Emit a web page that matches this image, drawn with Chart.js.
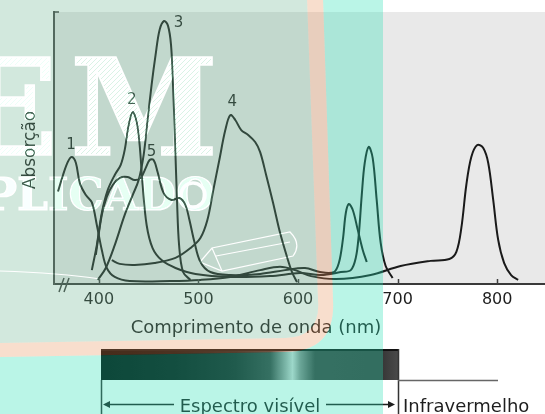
<!DOCTYPE html>
<html lang="pt">
<head>
<meta charset="utf-8">
<title>Espectros de absorção</title>
<script src="https://cdn.jsdelivr.net/npm/chart.js@4.4.0/dist/chart.umd.min.js"></script>
<style>
  html, body { margin: 0; padding: 0; background: #fff; overflow: hidden; }
  canvas { display: block; }
</style>
</head>
<body>
<canvas id="chart" width="545" height="414"></canvas>
<script>
'use strict';

// ── Data ───────────────────────────────────────────────────────────────────
const wavelengthTicks = [400, 500, 600, 700, 800];

const curve1Nm  = [359, 364, 369, 373, 377, 381, 387, 393, 398, 403, 408, 416, 431, 472, 502, 532, 562, 582, 597, 613, 638, 673, 703, 733, 752, 759, 764, 769, 774, 780, 786, 791, 796, 801, 807, 814, 821];
const curve1Abs = [ 34,  40,  45, 46.7, 44.5, 37, 32.7, 30, 21.7, 12.5, 5.9, 2.6, 1.1, 1.1, 1.5, 2.6, 5.1, 6.3, 5.1, 2.9, 1.8, 3.3, 6.6, 8.5, 9.2, 11.8, 20.6, 36.4, 46.7, 51.1, 50, 44.5, 30.9, 16.2, 7.7, 3.3, 1.5];

const curve2Nm  = [393, 398, 403, 409, 416, 422, 426, 430, 434, 438, 441, 444, 448, 454, 463, 477, 497, 532, 572, 602, 623, 643, 653, 658, 661, 664, 667, 671, 675, 679, 683, 688, 695];
const curve2Abs = [5.1, 14.3, 26.1, 34.6, 40.1, 43.8, 49.3, 58.5, 63.2, 59.6, 51.1, 36.4, 21.7, 13.2, 8.8, 5.9, 3.7, 2.6, 2.9, 4, 3.3, 4.4, 5.1, 9.6, 18, 32.7, 44.5, 50.4, 46.3, 30.9, 15.1, 6.6, 2.2];

const curve3Nm  = [399, 407, 416, 426, 434, 440, 445, 449, 453, 457, 461, 465.5, 469.5, 472.5, 474.5, 476.5, 478.5, 480.6, 484.6, 492];
const curve3Abs = [1.5, 5.9, 14.3, 25.4, 32.7, 38.2, 47.4, 60.3, 73.2, 84.2, 93.4, 96.7, 94.9, 87.9, 73.2, 52.9, 30.9, 14.3, 4.4, 1.5];

const curve4Nm  = [413, 421, 436, 456, 477, 492, 502, 509, 515, 521, 527, 532, 537, 543, 550, 557, 562, 568, 575, 582, 589, 594, 599];
const curve4Abs = [8.8, 7.4, 7, 7.7, 9.6, 13.2, 16.9, 23.5, 34.6, 45.6, 56.6, 62.1, 60.3, 56.6, 54.8, 52.2, 48.5, 40.1, 29.8, 18.8, 9.9, 4.4, 0.7];

const curve5Nm  = [397, 403, 408, 414, 421, 429, 436, 442, 447, 451, 455, 459, 465, 473, 481, 487, 491, 496, 502, 512, 532, 562, 587, 607, 622, 636, 641, 645, 648, 651, 655, 660, 665, 669];
const curve5Abs = [10.7, 25.4, 32, 36.4, 39, 39.3, 38.2, 39, 42.6, 45.6, 45.6, 41.2, 33.5, 30.9, 31.6, 29, 23.5, 15.4, 8.1, 4.4, 3.3, 3.7, 5.1, 5.9, 4.4, 4.4, 7.7, 16.2, 26.1, 29.4, 27.2, 19.9, 12.5, 8.1];

const curveLabels = ['1', '2', '3', '4', '5'];
const labelNm     = [372, 433, 480, 534, 453];
const labelAbs    = [51, 67.5, 96, 67, 48.5];

// ── Look ───────────────────────────────────────────────────────────────────
const INK   = '#1a1a1a';
const TEXT  = '#1e1e1e';
const SANS  = '"DejaVu Sans", "Liberation Sans", sans-serif';
const SERIF = '"DejaVu Serif", serif';

const toPoints = (xs, ys) => xs.map((x, i) => ({ x, y: ys[i] }));

function curve(nm, abs) {
  return {
    data: toPoints(nm, abs),
    borderColor: INK,
    borderWidth: 2,
    pointRadius: 0,
    tension: 0.35,
    fill: false,
  };
}

// left panel of the scan overlay (green inner / salmon rim)
function panelPath(ctx, inner) {
  if (inner) {
    ctx.moveTo(-2, -2); ctx.lineTo(307, -2); ctx.lineTo(318, 300);
    ctx.quadraticCurveTo(321, 337, 285, 338); ctx.lineTo(-2, 343);
  } else {
    ctx.moveTo(-2, -2); ctx.lineTo(323, -2); ctx.lineTo(333, 300);
    ctx.quadraticCurveTo(336, 352, 285, 352); ctx.lineTo(-2, 357);
  }
  ctx.closePath();
}

function arrowHead(ctx, x, y, dir) {
  ctx.beginPath();
  ctx.moveTo(x, y);
  ctx.lineTo(x - dir * 7, y - 3.5);
  ctx.lineTo(x - dir * 7, y + 3.5);
  ctx.closePath();
  ctx.fill();
}

// watermark drawn in greys on its own layer, then colour-dodged onto the chart
// so light paper turns white while the ink stays dark
function watermarkLayer(w, h) {
  const c = document.createElement('canvas');
  c.width = w; c.height = h;
  const m = c.getContext('2d');

  const pc = document.createElement('canvas');
  pc.width = 5; pc.height = 5;
  const p = pc.getContext('2d');
  p.fillStyle = 'rgb(72,72,72)';
  p.fillRect(0, 0, 5, 5);
  p.strokeStyle = 'rgb(28,28,28)';
  p.lineWidth = 1;
  p.beginPath();
  p.moveTo(-1, 6); p.lineTo(6, -1);
  p.moveTo(-1, 1); p.lineTo(1, -1);
  p.moveTo(4, 6); p.lineTo(6, 4);
  p.stroke();
  const hatch = m.createPattern(pc, 'repeat');

  m.textBaseline = 'alphabetic';
  m.font = `bold 134px ${SERIF}`;
  m.strokeStyle = 'rgb(80,80,80)';
  m.lineWidth = 1.5;
  [['E', 58, 'right'], ['M', 70, 'left']].forEach(([t, px, al]) => {
    m.textAlign = al;
    m.fillStyle = hatch;
    m.fillText(t, px, 155);
    m.strokeText(t, px, 155);
  });

  m.textAlign = 'left';
  m.font = `bold 44px ${SERIF}`;
  m.fillStyle = 'rgb(40,40,40)';
  m.fillText('PLICADO', -16, 210);
  m.strokeStyle = 'rgb(75,75,75)';
  m.lineWidth = 1.2;
  m.strokeText('PLICADO', -16, 210);

  m.strokeStyle = 'rgb(60,60,60)';
  m.lineWidth = 3.5;
  m.beginPath();
  m.arc(193, 195, 12, 0, Math.PI * 2);
  m.stroke();

  m.strokeStyle = 'rgb(80,80,80)';
  m.lineWidth = 1.2;
  m.beginPath();
  m.moveTo(0, 271); m.quadraticCurveTo(60, 273, 100, 279);
  m.moveTo(200, 262); m.lineTo(212, 248); m.lineTo(290, 232);
  m.quadraticCurveTo(302, 244, 293, 256); m.lineTo(222, 271); m.closePath();
  m.moveTo(212, 248); m.lineTo(222, 271);
  m.moveTo(216, 256); m.lineTo(290, 242);
  m.stroke();
  return c;
}

const scanPlugin = {
  id: 'scan',
  beforeDraw(chart) {
    const { ctx, chartArea: a } = chart;
    ctx.save();
    ctx.fillStyle = '#ffffff';
    ctx.fillRect(0, 0, chart.width, chart.height);
    ctx.fillStyle = '#e9e9e9';
    ctx.fillRect(a.left, a.top, a.right - a.left, a.bottom - a.top);
    ctx.restore();
  },
  afterDraw(chart) {
    const { ctx, chartArea: a, scales: { x, y } } = chart;
    ctx.save();

    // small ticks above the axis, top bracket, axis break
    ctx.strokeStyle = '#404040';
    ctx.lineWidth = 1.5;
    ctx.beginPath();
    wavelengthTicks.forEach(v => {
      const px = Math.round(x.getPixelForValue(v)) + 0.5;
      ctx.moveTo(px, a.bottom); ctx.lineTo(px, a.bottom - 5);
    });
    ctx.moveTo(a.left, a.top); ctx.lineTo(a.left + 5, a.top);
    ctx.moveTo(59, 292); ctx.lineTo(64, 278);
    ctx.moveTo(64, 292); ctx.lineTo(69, 278);
    ctx.stroke();

    // curve numbers
    ctx.fillStyle = TEXT;
    ctx.font = `15px ${SANS}`;
    ctx.textAlign = 'center';
    ctx.textBaseline = 'middle';
    curveLabels.forEach((t, i) => {
      ctx.fillText(t, x.getPixelForValue(labelNm[i]), y.getPixelForValue(labelAbs[i]));
    });

    // axis titles
    ctx.font = `18px ${SANS}`;
    ctx.textBaseline = 'alphabetic';
    ctx.fillText('Comprimento de onda (nm)', 256, 333);
    ctx.save();
    ctx.translate(35, 150);
    ctx.rotate(-Math.PI / 2);
    ctx.font = `17px ${SANS}`;
    ctx.fillText('Absorção', 0, 0);
    ctx.restore();

    // spectrum strip
    const bx0 = 101, bx1 = 398, by0 = 349, by1 = 380;
    const g = ctx.createLinearGradient(bx0, 0, bx1, 0);
    g.addColorStop(0.00, '#000000');
    g.addColorStop(0.25, '#0a0a0a');
    g.addColorStop(0.45, '#1c1c1c');
    g.addColorStop(0.57, '#3c3c3c');
    g.addColorStop(0.62, '#a0a0a0');
    g.addColorStop(0.645, '#d4d4d4');
    g.addColorStop(0.67, '#8c8c8c');
    g.addColorStop(0.72, '#3c3c3c');
    g.addColorStop(0.95, '#383838');
    g.addColorStop(1.00, '#4a4a4a');
    ctx.fillStyle = g;
    ctx.fillRect(bx0, by0, bx1 - bx0, by1 - by0);
    ctx.fillStyle = '#111';
    ctx.fillRect(bx0, by0, bx1 - bx0, 2);

    ctx.strokeStyle = '#333';
    ctx.lineWidth = 1.5;
    ctx.beginPath();
    ctx.moveTo(bx0 + 0.5, by1); ctx.lineTo(bx0 + 0.5, 414);
    ctx.moveTo(bx1 + 0.5, by0); ctx.lineTo(bx1 + 0.5, 414);
    ctx.stroke();
    ctx.strokeStyle = '#666';
    ctx.beginPath();
    ctx.moveTo(bx1, by1 + 0.5); ctx.lineTo(498, by1 + 0.5);
    ctx.stroke();

    ctx.fillStyle = TEXT;
    ctx.strokeStyle = TEXT;
    ctx.font = `18px ${SANS}`;
    ctx.textAlign = 'center';
    ctx.fillText('Espectro visível', 250, 412);
    ctx.textAlign = 'left';
    ctx.fillText('Infravermelho', 403, 412);
    ctx.lineWidth = 1.3;
    ctx.beginPath();
    ctx.moveTo(108, 404.5); ctx.lineTo(174, 404.5);
    ctx.moveTo(326, 404.5); ctx.lineTo(389, 404.5);
    ctx.stroke();
    arrowHead(ctx, 103, 404.5, -1);
    arrowHead(ctx, 395, 404.5, 1);

    // coloured overlays laid over the scan
    ctx.fillStyle = 'rgba(40,225,180,0.32)';
    ctx.beginPath();
    ctx.rect(0, 0, 383, 414);
    panelPath(ctx, false);
    ctx.fill('evenodd');

    ctx.fillStyle = 'rgba(232,145,88,0.3)';
    ctx.beginPath();
    panelPath(ctx, false);
    panelPath(ctx, true);
    ctx.fill('evenodd');

    ctx.fillStyle = 'rgba(105,178,142,0.3)';
    ctx.beginPath();
    panelPath(ctx, true);
    ctx.fill();

    // watermark
    ctx.globalCompositeOperation = 'color-dodge';
    ctx.drawImage(watermarkLayer(chart.width, chart.height), 0, 0);

    ctx.restore();
  },
};

new Chart(document.getElementById('chart'), {
  type: 'line',
  data: {
    datasets: [
      curve(curve1Nm, curve1Abs),
      curve(curve2Nm, curve2Abs),
      curve(curve3Nm, curve3Abs),
      curve(curve4Nm, curve4Abs),
      curve(curve5Nm, curve5Abs),
    ],
  },
  options: {
    responsive: false,
    devicePixelRatio: 1,
    animation: false,
    layout: { padding: { top: 12, right: 0, left: 0, bottom: 0 } },
    plugins: { legend: { display: false }, tooltip: { enabled: false } },
    scales: {
      x: {
        type: 'linear',
        min: 355,
        max: 848,
        grid: { display: false, drawTicks: false },
        border: { color: '#3a3a3a', width: 2 },
        ticks: { color: TEXT, font: { family: SANS, size: 16 }, padding: 6, maxRotation: 0 },
        afterBuildTicks: s => { s.ticks = wavelengthTicks.map(v => ({ value: v })); },
        afterFit: s => { s.height = 130; },
      },
      y: {
        min: 0,
        max: 100,
        grid: { display: false, drawTicks: false },
        border: { color: '#4a4a4a', width: 2 },
        ticks: { display: false },
        afterFit: s => { s.width = 54; },
      },
    },
  },
  plugins: [scanPlugin],
});
</script>
</body>
</html>
